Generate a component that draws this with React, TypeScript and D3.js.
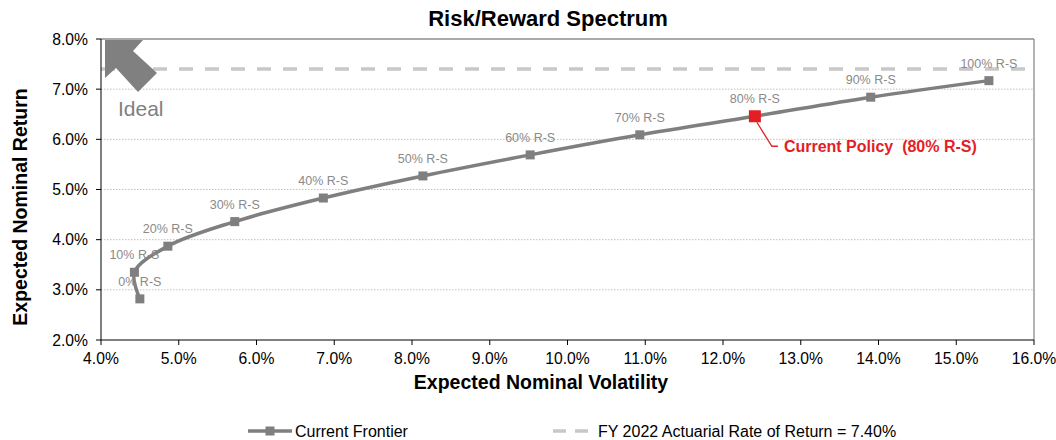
import React from "react";
import * as d3 from "d3";

const labels = ["0% R-S","10% R-S","20% R-S","30% R-S","40% R-S","50% R-S","60% R-S","70% R-S","80% R-S","90% R-S","100% R-S"];
const volatility = [4.50, 4.43, 4.86, 5.72, 6.86, 8.14, 9.52, 10.93, 12.41, 13.90, 15.42];
const returns = [2.82, 3.35, 3.87, 4.36, 4.83, 5.27, 5.69, 6.09, 6.46, 6.84, 7.17];
const actuarialRate = 7.40;
const currentPolicyIndex = 8;
const xTicks = [4,5,6,7,8,9,10,11,12,13,14,15,16];
const yTicks = [2,3,4,5,6,7,8];

const W = 1056, H = 440;
const M = { left: 101, right: 22, top: 39, bottom: 100 };
const FONT = "'Liberation Sans', Arial, sans-serif";

export default function App() {
  const x = d3.scaleLinear().domain([4, 16]).range([M.left, W - M.right]);
  const y = d3.scaleLinear().domain([2, 8]).range([H - M.bottom, M.top]);
  const pts = volatility.map((v, i) => [x(v), y(returns[i])] as [number, number]);
  const line = d3.line().curve(d3.curveCatmullRom.alpha(0.5))(pts) || "";
  const gray = "#7f7f7f";
  const red = "#e31e24";
  const cp = pts[currentPolicyIndex];
  const ax = x(4) + 4, ay = y(8) + 1;
  const arrow = [[0,0],[38,0],[28,11],[52,33],[33,52],[11,28],[0,38]].map(p => `${ax+p[0]},${ay+p[1]}`).join(" ");

  return (
    <svg width={W} height={H} style={{ position: "absolute", left: 0, top: 0, background: "#fff" }} fontFamily={FONT}>
      <text x={548} y={26} textAnchor="middle" fontSize={22} fontWeight="bold" fill="#000">Risk/Reward Spectrum</text>
      {yTicks.slice(1, -1).map(t => (
        <line key={"g"+t} x1={x(4)} x2={x(16)} y1={y(t)} y2={y(t)} stroke="#b0b0b0" strokeWidth={0.8} strokeDasharray="1.5,1.5" />
      ))}
      <line x1={x(4)} x2={x(16)} y1={y(8)} y2={y(8)} stroke="#8c8c8c" strokeWidth={1.3} />
      <line x1={x(16)} x2={x(16)} y1={y(8)} y2={y(2)} stroke="#8c8c8c" strokeWidth={1.3} />
      <line x1={x(4)} x2={x(16)} y1={y(actuarialRate)} y2={y(actuarialRate)} stroke="#c8c8c8" strokeWidth={3.5} strokeDasharray="14,12" />
      <polygon points={arrow} fill="#808080" />
      <text x={118} y={116} fontSize={21} fill="#808080">Ideal</text>
      <line x1={x(4)} x2={x(4)} y1={y(8)} y2={y(2)} stroke="#000" strokeWidth={1} />
      <line x1={x(4)} x2={x(16)} y1={y(2)} y2={y(2)} stroke="#000" strokeWidth={1} />
      {yTicks.map(t => (
        <g key={"y"+t}>
          <line x1={x(4) - 5} x2={x(4)} y1={y(t)} y2={y(t)} stroke="#000" />
          <text x={88} y={y(t) + 5.5} textAnchor="end" fontSize={15.7} fill="#000">{t.toFixed(1)}%</text>
        </g>
      ))}
      {xTicks.map(t => (
        <g key={"x"+t}>
          <line x1={x(t)} x2={x(t)} y1={y(2)} y2={y(2) + 5} stroke="#000" />
          <text x={x(t)} y={364} textAnchor="middle" fontSize={15.7} fill="#000">{t.toFixed(1)}%</text>
        </g>
      ))}
      <text x={541} y={389} textAnchor="middle" fontSize={19.5} fontWeight="bold" fill="#000">Expected Nominal Volatility</text>
      <text transform={`translate(27,207) rotate(-90)`} textAnchor="middle" fontSize={19.5} fontWeight="bold" fill="#000">Expected Nominal Return</text>
      <path d={line} fill="none" stroke={gray} strokeWidth={3.5} />
      {pts.map((p, i) => i === currentPolicyIndex ? null : (
        <rect key={"m"+i} x={p[0] - 4.5} y={p[1] - 4.5} width={9} height={9} fill={gray} />
      ))}
      {pts.map((p, i) => (
        <text key={"l"+i} x={p[0]} y={p[1] - 13} textAnchor="middle" fontSize={12.5} fill="#8a8a8a">{labels[i]}</text>
      ))}
      <polyline points={`${cp[0]+2},${cp[1]+6} ${cp[0]+17},${cp[1]+30} ${cp[0]+23},${cp[1]+30}`} fill="none" stroke={red} strokeWidth={1.3} />
      <rect x={cp[0] - 6} y={cp[1] - 6} width={12} height={12} fill={red} />
      <text x={cp[0] + 29} y={cp[1] + 36} fontSize={16} fontWeight="bold" fill={red} style={{ whiteSpace: "pre" }}>{"Current Policy  (80% R-S)"}</text>
      <g>
        <line x1={248} x2={292} y1={431} y2={431} stroke={gray} strokeWidth={3.5} />
        <rect x={265.5} y={426.5} width={9} height={9} fill={gray} />
        <text x={295} y={437} fontSize={16} fill="#000">Current Frontier</text>
        <line x1={553} x2={595} y1={431} y2={431} stroke="#c8c8c8" strokeWidth={3.5} strokeDasharray="13,9" />
        <text x={598} y={437} fontSize={16} fill="#000">FY 2022 Actuarial Rate of Return = 7.40%</text>
      </g>
    </svg>
  );
}
